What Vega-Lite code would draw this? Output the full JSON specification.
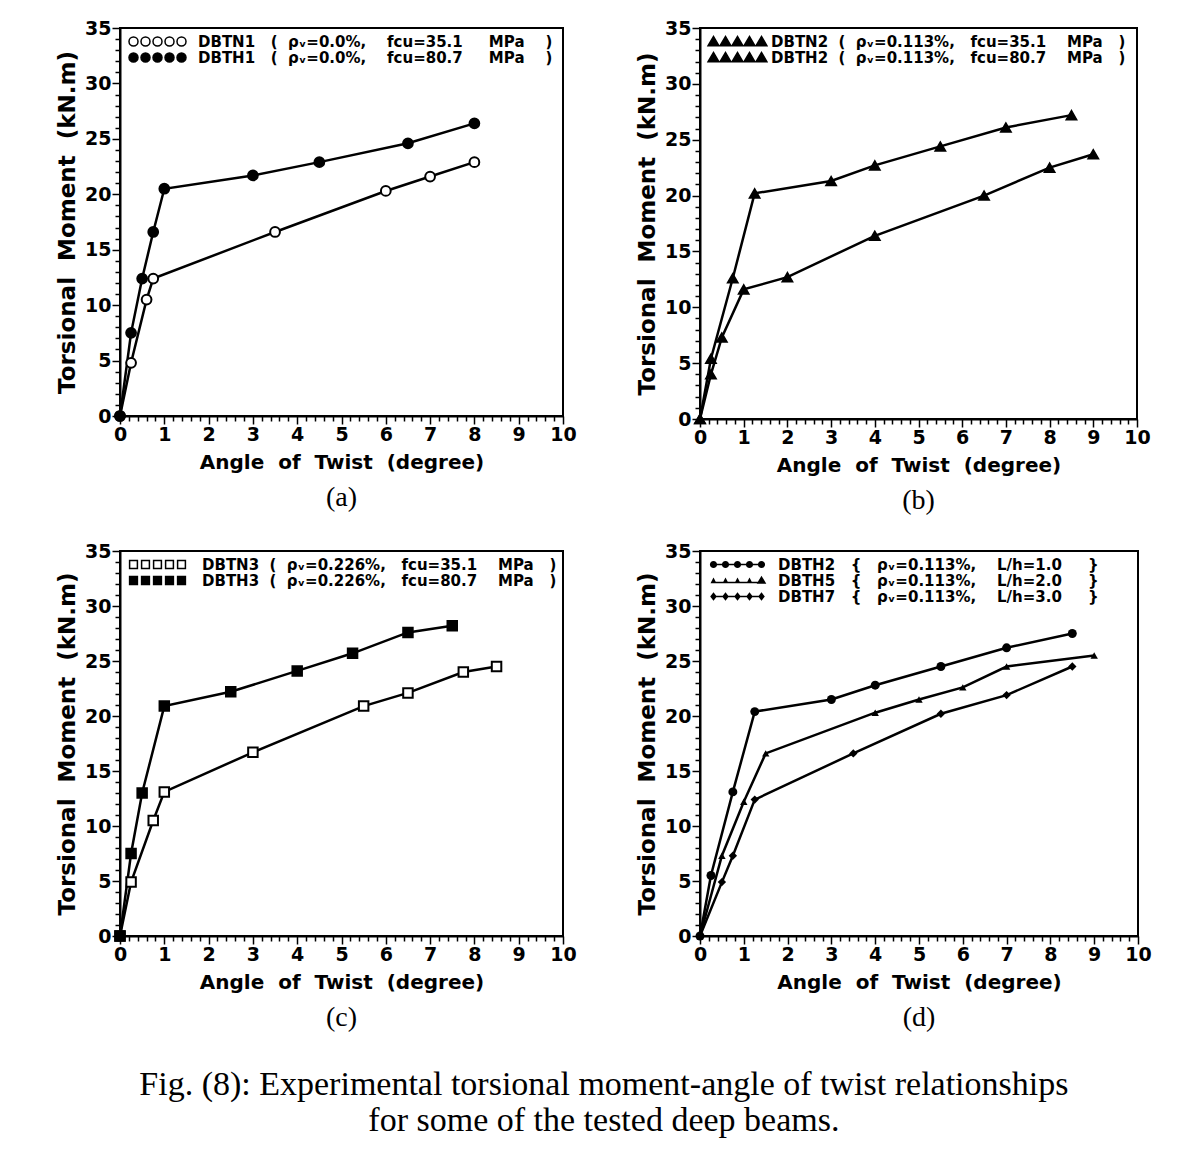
{
  "$schema": "https://vega.github.io/schema/vega-lite/v6.json",
  "padding": {"left": 55, "top": 18, "right": 5, "bottom": 5},
  "background": "white",
  "data": {"values": [
    {"panel": "a", "series": "DBTN1", "angle": 0, "moment": 0},
    {"panel": "a", "series": "DBTN1", "angle": 0.25, "moment": 4.8},
    {"panel": "a", "series": "DBTN1", "angle": 0.6, "moment": 10.5},
    {"panel": "a", "series": "DBTN1", "angle": 0.75, "moment": 12.4},
    {"panel": "a", "series": "DBTN1", "angle": 3.5, "moment": 16.6},
    {"panel": "a", "series": "DBTN1", "angle": 6, "moment": 20.3},
    {"panel": "a", "series": "DBTN1", "angle": 7, "moment": 21.6},
    {"panel": "a", "series": "DBTN1", "angle": 8, "moment": 22.9},
    {"panel": "a", "series": "DBTH1", "angle": 0, "moment": 0},
    {"panel": "a", "series": "DBTH1", "angle": 0.25, "moment": 7.5},
    {"panel": "a", "series": "DBTH1", "angle": 0.5, "moment": 12.4},
    {"panel": "a", "series": "DBTH1", "angle": 0.75, "moment": 16.6},
    {"panel": "a", "series": "DBTH1", "angle": 1, "moment": 20.5},
    {"panel": "a", "series": "DBTH1", "angle": 3, "moment": 21.7},
    {"panel": "a", "series": "DBTH1", "angle": 4.5, "moment": 22.9},
    {"panel": "a", "series": "DBTH1", "angle": 6.5, "moment": 24.6},
    {"panel": "a", "series": "DBTH1", "angle": 8, "moment": 26.4},
    {"panel": "b", "series": "DBTN2", "angle": 0, "moment": 0},
    {"panel": "b", "series": "DBTN2", "angle": 0.25, "moment": 4.0},
    {"panel": "b", "series": "DBTN2", "angle": 0.5, "moment": 7.3},
    {"panel": "b", "series": "DBTN2", "angle": 1, "moment": 11.6},
    {"panel": "b", "series": "DBTN2", "angle": 2, "moment": 12.7},
    {"panel": "b", "series": "DBTN2", "angle": 4, "moment": 16.4},
    {"panel": "b", "series": "DBTN2", "angle": 6.5, "moment": 20.0},
    {"panel": "b", "series": "DBTN2", "angle": 8, "moment": 22.5},
    {"panel": "b", "series": "DBTN2", "angle": 9, "moment": 23.7},
    {"panel": "b", "series": "DBTH2", "angle": 0, "moment": 0},
    {"panel": "b", "series": "DBTH2", "angle": 0.25, "moment": 5.4},
    {"panel": "b", "series": "DBTH2", "angle": 0.75, "moment": 12.6},
    {"panel": "b", "series": "DBTH2", "angle": 1.25, "moment": 20.2},
    {"panel": "b", "series": "DBTH2", "angle": 3, "moment": 21.3},
    {"panel": "b", "series": "DBTH2", "angle": 4, "moment": 22.7},
    {"panel": "b", "series": "DBTH2", "angle": 5.5, "moment": 24.4},
    {"panel": "b", "series": "DBTH2", "angle": 7, "moment": 26.1},
    {"panel": "b", "series": "DBTH2", "angle": 8.5, "moment": 27.2},
    {"panel": "c", "series": "DBTN3", "angle": 0, "moment": 0},
    {"panel": "c", "series": "DBTN3", "angle": 0.25, "moment": 4.9},
    {"panel": "c", "series": "DBTN3", "angle": 0.75, "moment": 10.5},
    {"panel": "c", "series": "DBTN3", "angle": 1, "moment": 13.1},
    {"panel": "c", "series": "DBTN3", "angle": 3, "moment": 16.7},
    {"panel": "c", "series": "DBTN3", "angle": 5.5, "moment": 20.9},
    {"panel": "c", "series": "DBTN3", "angle": 6.5, "moment": 22.1},
    {"panel": "c", "series": "DBTN3", "angle": 7.75, "moment": 24.0},
    {"panel": "c", "series": "DBTN3", "angle": 8.5, "moment": 24.5},
    {"panel": "c", "series": "DBTH3", "angle": 0, "moment": 0},
    {"panel": "c", "series": "DBTH3", "angle": 0.25, "moment": 7.5},
    {"panel": "c", "series": "DBTH3", "angle": 0.5, "moment": 13.0},
    {"panel": "c", "series": "DBTH3", "angle": 1, "moment": 20.9},
    {"panel": "c", "series": "DBTH3", "angle": 2.5, "moment": 22.2},
    {"panel": "c", "series": "DBTH3", "angle": 4, "moment": 24.1},
    {"panel": "c", "series": "DBTH3", "angle": 5.25, "moment": 25.7},
    {"panel": "c", "series": "DBTH3", "angle": 6.5, "moment": 27.6},
    {"panel": "c", "series": "DBTH3", "angle": 7.5, "moment": 28.2},
    {"panel": "d", "series": "DBTH2", "angle": 0, "moment": 0},
    {"panel": "d", "series": "DBTH2", "angle": 0.25, "moment": 5.5},
    {"panel": "d", "series": "DBTH2", "angle": 0.75, "moment": 13.1},
    {"panel": "d", "series": "DBTH2", "angle": 1.25, "moment": 20.4},
    {"panel": "d", "series": "DBTH2", "angle": 3, "moment": 21.5},
    {"panel": "d", "series": "DBTH2", "angle": 4, "moment": 22.8},
    {"panel": "d", "series": "DBTH2", "angle": 5.5, "moment": 24.5},
    {"panel": "d", "series": "DBTH2", "angle": 7, "moment": 26.2},
    {"panel": "d", "series": "DBTH2", "angle": 8.5, "moment": 27.5},
    {"panel": "d", "series": "DBTH5", "angle": 0, "moment": 0},
    {"panel": "d", "series": "DBTH5", "angle": 0.5, "moment": 7.3},
    {"panel": "d", "series": "DBTH5", "angle": 1, "moment": 12.2},
    {"panel": "d", "series": "DBTH5", "angle": 1.5, "moment": 16.6},
    {"panel": "d", "series": "DBTH5", "angle": 4, "moment": 20.3},
    {"panel": "d", "series": "DBTH5", "angle": 5, "moment": 21.5},
    {"panel": "d", "series": "DBTH5", "angle": 6, "moment": 22.6},
    {"panel": "d", "series": "DBTH5", "angle": 7, "moment": 24.5},
    {"panel": "d", "series": "DBTH5", "angle": 9, "moment": 25.5},
    {"panel": "d", "series": "DBTH7", "angle": 0, "moment": 0},
    {"panel": "d", "series": "DBTH7", "angle": 0.5, "moment": 4.9},
    {"panel": "d", "series": "DBTH7", "angle": 0.75, "moment": 7.3},
    {"panel": "d", "series": "DBTH7", "angle": 1.25, "moment": 12.4},
    {"panel": "d", "series": "DBTH7", "angle": 3.5, "moment": 16.6},
    {"panel": "d", "series": "DBTH7", "angle": 5.5, "moment": 20.2},
    {"panel": "d", "series": "DBTH7", "angle": 7, "moment": 21.9},
    {"panel": "d", "series": "DBTH7", "angle": 8.5, "moment": 24.5}
  ]},
  "title": {
    "text": ["Fig. (8): Experimental torsional moment-angle of twist relationships", "for some of the tested deep beams."],
    "orient": "bottom", "anchor": "middle", "font": "Liberation Serif", "fontSize": 34, "fontWeight": "normal",
    "lineHeight": 36, "offset": 35, "color": "black"
  },
  "spacing": 25,
  "resolve": {"scale": {"fill": "independent", "shape": "independent"}, "legend": {"fill": "independent", "shape": "independent"}},
  "vconcat": [
    {
      "spacing": 57,
      "resolve": {"scale": {"fill": "independent", "shape": "independent"}, "legend": {"fill": "independent", "shape": "independent"}},
      "hconcat": [
        {
          "width": 443, "height": 388,
          "title": {"text": "(a)", "orient": "bottom", "font": "Liberation Serif", "fontSize": 28, "fontWeight": "normal", "offset": 12, "anchor": "middle", "color": "black"},
          "transform": [{"filter": "datum.panel === 'a'"}],
          "encoding": {
            "x": {"field": "angle", "type": "quantitative", "scale": {"domain": [0, 10], "nice": false},
              "axis": {"title": "Angle\u00a0 of\u00a0 Twist\u00a0 (degree)",
                "values": [0,0.2,0.4,0.6,0.8,1,1.2,1.4,1.6,1.8,2,2.2,2.4,2.6,2.8,3,3.2,3.4,3.6,3.8,4,4.2,4.4,4.6,4.8,5,5.2,5.4,5.6,5.8,6,6.2,6.4,6.6,6.8,7,7.2,7.4,7.6,7.8,8,8.2,8.4,8.6,8.8,9,9.2,9.4,9.6,9.8,10],
                "labelExpr": "abs(datum.value - round(datum.value)) < 0.001 ? format(datum.value, 'd') : ''",
                "tickSize": {"condition": {"test": "abs(datum.value - round(datum.value)) < 0.001", "value": 8}, "value": 5}}},
            "y": {"field": "moment", "type": "quantitative", "scale": {"domain": [0, 35], "nice": false},
              "axis": {"title": "Torsional\u00a0 Moment\u00a0 (kN.m)",
                "values": [0,1,2,3,4,5,6,7,8,9,10,11,12,13,14,15,16,17,18,19,20,21,22,23,24,25,26,27,28,29,30,31,32,33,34,35],
                "labelExpr": "datum.value % 5 === 0 ? format(datum.value, 'd') : ''",
                "tickSize": {"condition": {"test": "datum.value % 5 === 0", "value": 8}, "value": 5}}}
          },
          "layer": [
            {"mark": {"type": "line", "color": "black", "strokeWidth": 2.5}, "encoding": {"detail": {"field": "series"}}},
            {"mark": {"type": "point", "shape": "circle", "size": 95, "stroke": "black", "strokeWidth": 2, "opacity": 1},
              "encoding": {"fill": {"field": "series", "type": "nominal", "scale": {"domain": ["DBTN1", "DBTH1"], "range": ["white", "black"]},
                "legend": {"title": null, "labelOffset": 57,
                  "symbolType": "M-0.75,0a0.75,0.75 0 1,1 1.5,0a0.75,0.75 0 1,1 -1.5,0M1.25,0a0.75,0.75 0 1,1 1.5,0a0.75,0.75 0 1,1 -1.5,0M3.25,0a0.75,0.75 0 1,1 1.5,0a0.75,0.75 0 1,1 -1.5,0M5.25,0a0.75,0.75 0 1,1 1.5,0a0.75,0.75 0 1,1 -1.5,0M7.25,0a0.75,0.75 0 1,1 1.5,0a0.75,0.75 0 1,1 -1.5,0",
                  "labelExpr": "datum.label === 'DBTN1' ? 'DBTN1\u00a0\u00a0\u00a0(\u00a0\u00a0ρᵥ=0.0%,\u00a0\u00a0\u00a0\u00a0fcu=35.1\u00a0\u00a0\u00a0\u00a0\u00a0MPa\u00a0\u00a0\u00a0\u00a0)' : 'DBTH1\u00a0\u00a0\u00a0(\u00a0\u00a0ρᵥ=0.0%,\u00a0\u00a0\u00a0\u00a0fcu=80.7\u00a0\u00a0\u00a0\u00a0\u00a0MPa\u00a0\u00a0\u00a0\u00a0)'"}}}}
          ]
        },
        {
          "width": 437, "height": 391,
          "title": {"text": "(b)", "orient": "bottom", "font": "Liberation Serif", "fontSize": 28, "fontWeight": "normal", "offset": 12, "anchor": "middle", "color": "black"},
          "transform": [{"filter": "datum.panel === 'b'"}],
          "encoding": {
            "x": {"field": "angle", "type": "quantitative", "scale": {"domain": [0, 10], "nice": false},
              "axis": {"title": "Angle\u00a0 of\u00a0 Twist\u00a0 (degree)",
                "values": [0,0.2,0.4,0.6,0.8,1,1.2,1.4,1.6,1.8,2,2.2,2.4,2.6,2.8,3,3.2,3.4,3.6,3.8,4,4.2,4.4,4.6,4.8,5,5.2,5.4,5.6,5.8,6,6.2,6.4,6.6,6.8,7,7.2,7.4,7.6,7.8,8,8.2,8.4,8.6,8.8,9,9.2,9.4,9.6,9.8,10],
                "labelExpr": "abs(datum.value - round(datum.value)) < 0.001 ? format(datum.value, 'd') : ''",
                "tickSize": {"condition": {"test": "abs(datum.value - round(datum.value)) < 0.001", "value": 8}, "value": 5}}},
            "y": {"field": "moment", "type": "quantitative", "scale": {"domain": [0, 35], "nice": false},
              "axis": {"title": "Torsional\u00a0 Moment\u00a0 (kN.m)",
                "values": [0,1,2,3,4,5,6,7,8,9,10,11,12,13,14,15,16,17,18,19,20,21,22,23,24,25,26,27,28,29,30,31,32,33,34,35],
                "labelExpr": "datum.value % 5 === 0 ? format(datum.value, 'd') : ''",
                "tickSize": {"condition": {"test": "datum.value % 5 === 0", "value": 8}, "value": 5}}}
          },
          "layer": [
            {"mark": {"type": "line", "color": "black", "strokeWidth": 2.5}, "encoding": {"detail": {"field": "series"}}},
            {"mark": {"type": "point", "shape": "triangle-up", "size": 110, "stroke": "black", "strokeWidth": 1.5, "opacity": 1},
              "encoding": {"fill": {"field": "series", "type": "nominal", "scale": {"domain": ["DBTN2", "DBTH2"], "range": ["black", "black"]},
                "legend": {"title": null, "labelOffset": 50,
                  "symbolType": "M-0.9,0.7L0,-0.85L0.9,0.7ZM1.1,0.7L2,-0.85L2.9,0.7ZM3.1,0.7L4,-0.85L4.9,0.7ZM5.1,0.7L6,-0.85L6.9,0.7ZM7.1,0.7L8,-0.85L8.9,0.7Z",
                  "labelExpr": "datum.label === 'DBTN2' ? 'DBTN2\u00a0\u00a0(\u00a0\u00a0ρᵥ=0.113%,\u00a0\u00a0\u00a0fcu=35.1\u00a0\u00a0\u00a0\u00a0MPa\u00a0\u00a0\u00a0)' : 'DBTH2\u00a0\u00a0(\u00a0\u00a0ρᵥ=0.113%,\u00a0\u00a0\u00a0fcu=80.7\u00a0\u00a0\u00a0\u00a0MPa\u00a0\u00a0\u00a0)'"}}}}
          ]
        }
      ]
    },
    {
      "spacing": 57,
      "resolve": {"scale": {"fill": "independent", "shape": "independent"}, "legend": {"fill": "independent", "shape": "independent"}},
      "hconcat": [
        {
          "width": 443, "height": 385,
          "title": {"text": "(c)", "orient": "bottom", "font": "Liberation Serif", "fontSize": 28, "fontWeight": "normal", "offset": 12, "anchor": "middle", "color": "black"},
          "transform": [{"filter": "datum.panel === 'c'"}],
          "encoding": {
            "x": {"field": "angle", "type": "quantitative", "scale": {"domain": [0, 10], "nice": false},
              "axis": {"title": "Angle\u00a0 of\u00a0 Twist\u00a0 (degree)",
                "values": [0,0.2,0.4,0.6,0.8,1,1.2,1.4,1.6,1.8,2,2.2,2.4,2.6,2.8,3,3.2,3.4,3.6,3.8,4,4.2,4.4,4.6,4.8,5,5.2,5.4,5.6,5.8,6,6.2,6.4,6.6,6.8,7,7.2,7.4,7.6,7.8,8,8.2,8.4,8.6,8.8,9,9.2,9.4,9.6,9.8,10],
                "labelExpr": "abs(datum.value - round(datum.value)) < 0.001 ? format(datum.value, 'd') : ''",
                "tickSize": {"condition": {"test": "abs(datum.value - round(datum.value)) < 0.001", "value": 8}, "value": 5}}},
            "y": {"field": "moment", "type": "quantitative", "scale": {"domain": [0, 35], "nice": false},
              "axis": {"title": "Torsional\u00a0 Moment\u00a0 (kN.m)",
                "values": [0,1,2,3,4,5,6,7,8,9,10,11,12,13,14,15,16,17,18,19,20,21,22,23,24,25,26,27,28,29,30,31,32,33,34,35],
                "labelExpr": "datum.value % 5 === 0 ? format(datum.value, 'd') : ''",
                "tickSize": {"condition": {"test": "datum.value % 5 === 0", "value": 8}, "value": 5}}}
          },
          "layer": [
            {"mark": {"type": "line", "color": "black", "strokeWidth": 2.5}, "encoding": {"detail": {"field": "series"}}},
            {"mark": {"type": "point", "shape": "square", "size": 90, "stroke": "black", "strokeWidth": 2, "opacity": 1},
              "encoding": {"fill": {"field": "series", "type": "nominal", "scale": {"domain": ["DBTN3", "DBTH3"], "range": ["white", "black"]},
                "legend": {"title": null, "labelOffset": 61,
                  "symbolType": "M-0.65,-0.65h1.3v1.3h-1.3ZM1.35,-0.65h1.3v1.3h-1.3ZM3.35,-0.65h1.3v1.3h-1.3ZM5.35,-0.65h1.3v1.3h-1.3ZM7.35,-0.65h1.3v1.3h-1.3Z",
                  "labelExpr": "datum.label === 'DBTN3' ? 'DBTN3\u00a0\u00a0(\u00a0\u00a0ρᵥ=0.226%,\u00a0\u00a0\u00a0fcu=35.1\u00a0\u00a0\u00a0\u00a0MPa\u00a0\u00a0\u00a0)' : 'DBTH3\u00a0\u00a0(\u00a0\u00a0ρᵥ=0.226%,\u00a0\u00a0\u00a0fcu=80.7\u00a0\u00a0\u00a0\u00a0MPa\u00a0\u00a0\u00a0)'"}}}}
          ]
        },
        {
          "width": 438, "height": 385,
          "title": {"text": "(d)", "orient": "bottom", "font": "Liberation Serif", "fontSize": 28, "fontWeight": "normal", "offset": 12, "anchor": "middle", "color": "black"},
          "transform": [{"filter": "datum.panel === 'd'"}],
          "encoding": {
            "x": {"field": "angle", "type": "quantitative", "scale": {"domain": [0, 10], "nice": false},
              "axis": {"title": "Angle\u00a0 of\u00a0 Twist\u00a0 (degree)",
                "values": [0,0.2,0.4,0.6,0.8,1,1.2,1.4,1.6,1.8,2,2.2,2.4,2.6,2.8,3,3.2,3.4,3.6,3.8,4,4.2,4.4,4.6,4.8,5,5.2,5.4,5.6,5.8,6,6.2,6.4,6.6,6.8,7,7.2,7.4,7.6,7.8,8,8.2,8.4,8.6,8.8,9,9.2,9.4,9.6,9.8,10],
                "labelExpr": "abs(datum.value - round(datum.value)) < 0.001 ? format(datum.value, 'd') : ''",
                "tickSize": {"condition": {"test": "abs(datum.value - round(datum.value)) < 0.001", "value": 8}, "value": 5}}},
            "y": {"field": "moment", "type": "quantitative", "scale": {"domain": [0, 35], "nice": false},
              "axis": {"title": "Torsional\u00a0 Moment\u00a0 (kN.m)",
                "values": [0,1,2,3,4,5,6,7,8,9,10,11,12,13,14,15,16,17,18,19,20,21,22,23,24,25,26,27,28,29,30,31,32,33,34,35],
                "labelExpr": "datum.value % 5 === 0 ? format(datum.value, 'd') : ''",
                "tickSize": {"condition": {"test": "datum.value % 5 === 0", "value": 8}, "value": 5}}}
          },
          "layer": [
            {"mark": {"type": "line", "color": "black", "strokeWidth": 2.5}, "encoding": {"detail": {"field": "series"}}},
            {"transform": [{"filter": "datum.series === 'DBTH2'"}], "mark": {"type": "point", "shape": "circle", "size": 80, "filled": true, "color": "black", "opacity": 1}},
            {"transform": [{"filter": "datum.series === 'DBTH5'"}], "mark": {"type": "point", "shape": "triangle-up", "size": 55, "filled": true, "color": "black", "opacity": 1}},
            {"transform": [{"filter": "datum.series === 'DBTH7'"}], "mark": {"type": "point", "shape": "diamond", "size": 70, "filled": true, "color": "black", "opacity": 1}},
            {"transform": [{"filter": "datum.angle < 0"}],
              "mark": {"type": "point", "filled": true, "color": "black", "opacity": 1},
              "encoding": {"shape": {"field": "series", "type": "nominal",
                "scale": {"domain": ["DBTH2", "DBTH5", "DBTH7"], "range": [
                  "M0,-0.13H8V0.13H0ZM-0.6,0a0.6,0.6 0 1,1 1.2,0a0.6,0.6 0 1,1 -1.2,0M1.4,0a0.6,0.6 0 1,1 1.2,0a0.6,0.6 0 1,1 -1.2,0M3.4,0a0.6,0.6 0 1,1 1.2,0a0.6,0.6 0 1,1 -1.2,0M5.4,0a0.6,0.6 0 1,1 1.2,0a0.6,0.6 0 1,1 -1.2,0M7.4,0a0.6,0.6 0 1,1 1.2,0a0.6,0.6 0 1,1 -1.2,0",
                  "M0,0.2H8V0.45H0ZM-0.5,0.45L0,-0.5L0.5,0.45ZM1.5,0.45L2,-0.5L2.5,0.45ZM3.5,0.45L4,-0.5L4.5,0.45ZM5.5,0.45L6,-0.5L6.5,0.45ZM7.2,0.55L8,-0.8L8.8,0.55Z",
                  "M0,-0.13H8V0.13H0ZM0,-0.7L0.55,0L0,0.7L-0.55,0ZM2,-0.7L2.55,0L2,0.7L1.45,0ZM4,-0.7L4.55,0L4,0.7L3.45,0ZM6,-0.7L6.55,0L6,0.7L5.45,0ZM8,-0.7L8.55,0L8,0.7L7.45,0Z"
                ]},
                "legend": {"title": null, "labelOffset": 57,
                  "labelExpr": "datum.label === 'DBTH2' ? 'DBTH2\u00a0\u00a0\u00a0{\u00a0\u00a0\u00a0ρᵥ=0.113%,\u00a0\u00a0\u00a0\u00a0L/h=1.0\u00a0\u00a0\u00a0\u00a0\u00a0}' : datum.label === 'DBTH5' ? 'DBTH5\u00a0\u00a0\u00a0{\u00a0\u00a0\u00a0ρᵥ=0.113%,\u00a0\u00a0\u00a0\u00a0L/h=2.0\u00a0\u00a0\u00a0\u00a0\u00a0}' : 'DBTH7\u00a0\u00a0\u00a0{\u00a0\u00a0\u00a0ρᵥ=0.113%,\u00a0\u00a0\u00a0\u00a0L/h=3.0\u00a0\u00a0\u00a0\u00a0\u00a0}'"}}}}
          ]
        }
      ]
    }
  ],
  "config": {
    "view": {"stroke": "black", "strokeWidth": 2},
    "axis": {
      "grid": false, "domainColor": "black", "domainWidth": 2, "tickColor": "black", "tickWidth": 1.5,
      "labelColor": "black", "labelFont": "DejaVu Sans", "labelFontWeight": "bold", "labelFontSize": 19,
      "titleColor": "black", "titleFont": "DejaVu Sans", "titleFontWeight": "bold", "titleFontSize": 20,
      "labelOverlap": false, "labelFlush": false, "labelPadding": 1
    },
    "axisX": {"titlePadding": 8},
    "axisY": {"titlePadding": 5, "titleFontSize": 23},
    "legend": {
      "orient": "top-left", "offset": 6, "padding": 0, "rowPadding": -1,
      "labelFont": "DejaVu Sans", "labelFontWeight": "bold", "labelFontSize": 15, "labelColor": "black",
      "labelOffset": 57, "labelLimit": 600, "symbolSize": 144, "symbolStrokeColor": "black", "symbolStrokeWidth": 1.5,
      "symbolFillColor": "black"
    }
  }
}
